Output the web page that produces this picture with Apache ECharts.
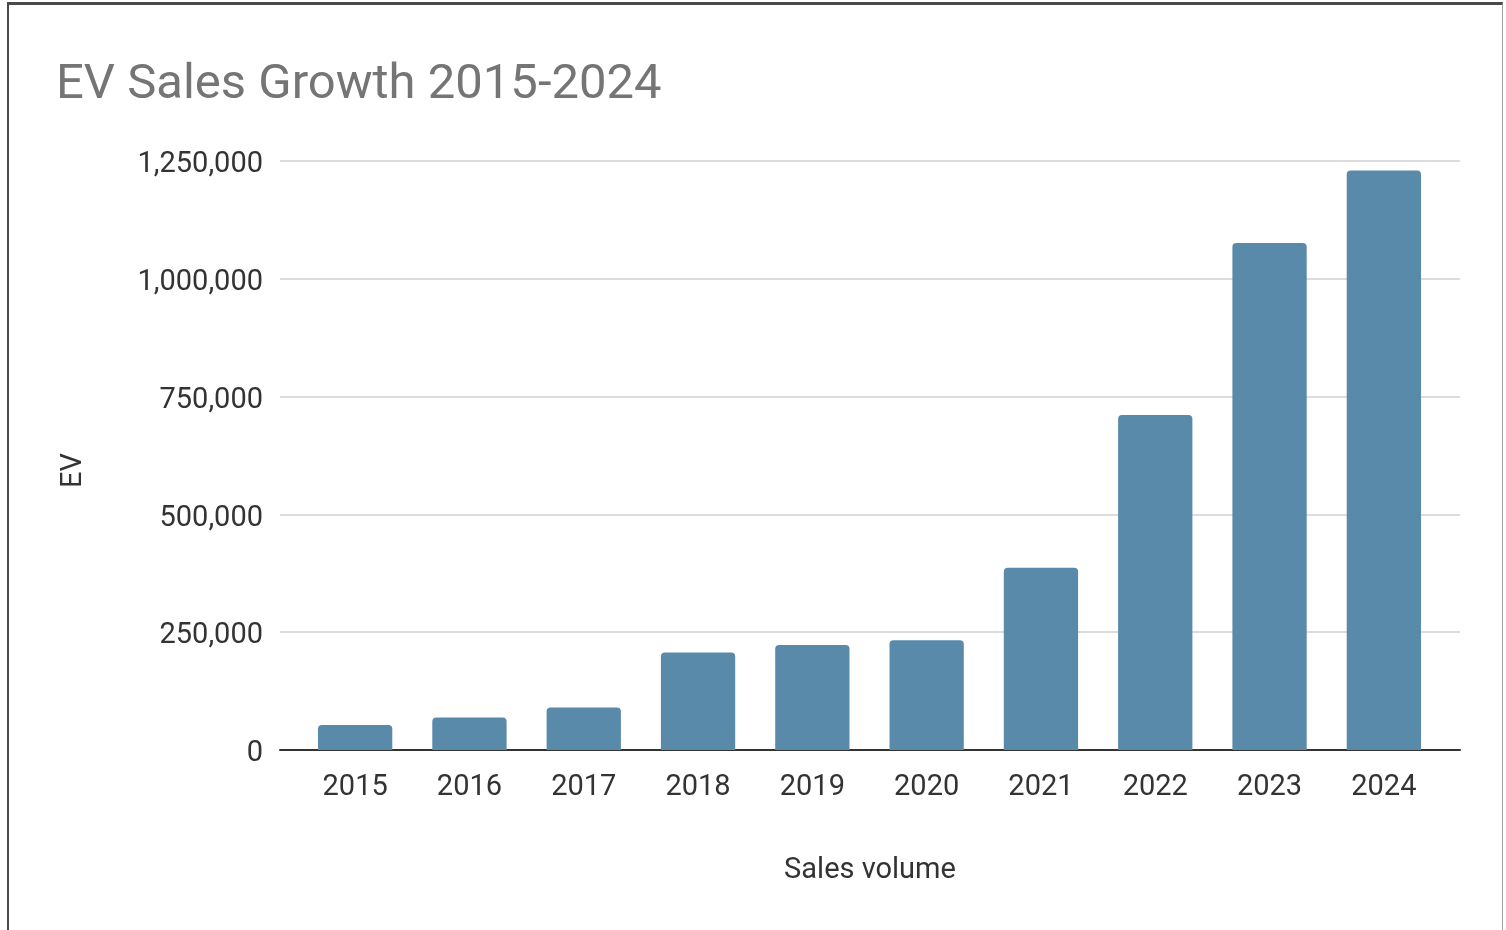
<!DOCTYPE html>
<html>
<head>
<meta charset="utf-8">
<title>EV Sales Growth 2015-2024</title>
<script src="https://cdn.jsdelivr.net/npm/echarts@6/dist/echarts.min.js"></script>
<style>
  * { margin: 0; padding: 0; }
  body { background: #fff; }
  #chart1 { width: 1506px; height: 930px; position: relative; }
  .frame {
    position: absolute;
    left: 7px; top: 2px; width: 1496px; height: 928px;
    border-top: 3px solid #4a4a4a;
    border-left: 2px solid #4a4a4a;
    border-right: 1px solid #a0a0a0;
    box-sizing: border-box;
    pointer-events: none;
  }
</style>
</head>
<body>
<div id="chart1"></div>
<div class="frame"></div>
<script>
// data
var years = ['2015', '2016', '2017', '2018', '2019', '2020', '2021', '2022', '2023', '2024'];
var evSales = [53000, 69000, 90000, 207000, 223000, 233000, 387000, 711000, 1076000, 1230000];
var yTicks = [0, 250000, 500000, 750000, 1000000, 1250000];

var barChart = echarts.init(document.getElementById('chart1'));
var fontFamily = 'Roboto, "Noto Sans", sans-serif';

var option = {
  backgroundColor: '#fff',
  animation: false,
  title: {
    text: 'EV Sales Growth 2015-2024',
    left: 51,
    top: 56,
    textStyle: { color: '#757575', fontSize: 49, fontWeight: 'normal', fontFamily: fontFamily }
  },
  grid: [
    // grid for axis line + gridlines (wider, like the original)
    { left: 280, right: 46, top: 161, bottom: 180 },
    // grid for the bars (inset)
    { left: 298, right: 65, top: 161, bottom: 180 }
  ],
  xAxis: [
    {
      gridIndex: 0,
      type: 'value',
      min: 0, max: 1,
      axisLine: { show: true, onZero: false, lineStyle: { color: '#333', width: 2 } },
      axisTick: { show: false },
      axisLabel: { show: false },
      splitLine: { show: false },
      name: 'Sales volume',
      nameLocation: 'middle',
      nameGap: 106,
      nameTextStyle: { color: '#333', fontSize: 29, fontFamily: fontFamily }
    },
    {
      gridIndex: 1,
      type: 'category',
      data: years,
      axisLine: { show: false },
      axisTick: { show: false },
      axisLabel: { color: '#333', fontSize: 29, fontFamily: fontFamily, margin: 23 }
    }
  ],
  yAxis: [
    {
      gridIndex: 0,
      type: 'value',
      min: yTicks[0],
      max: yTicks[yTicks.length - 1],
      interval: 250000,
      axisLine: { show: false },
      axisTick: { show: false },
      axisLabel: {
        color: '#333', fontSize: 29, fontFamily: fontFamily, margin: 17,
        verticalAlign: 'top', lineHeight: 8,
        formatter: function (v) { return v.toLocaleString('en-US'); }
      },
      splitLine: { lineStyle: { color: '#dcdcdc', width: 2 } },
      name: 'EV',
      nameLocation: 'middle',
      nameGap: 192,
      nameRotate: 90,
      nameTextStyle: { color: '#333', fontSize: 29, fontFamily: fontFamily, padding: [0, 0, 0, -30] }
    },
    {
      gridIndex: 1,
      type: 'value',
      min: yTicks[0],
      max: yTicks[yTicks.length - 1],
      show: false,
      splitLine: { show: false }
    }
  ],
  series: [
    {
      type: 'bar',
      xAxisIndex: 1,
      yAxisIndex: 1,
      data: evSales,
      barCategoryGap: '35%',
      itemStyle: { color: '#5a8aaa', borderRadius: [4, 4, 0, 0] },
      z: 3
    }
  ]
};
barChart.setOption(option);
</script>
</body>
</html>
